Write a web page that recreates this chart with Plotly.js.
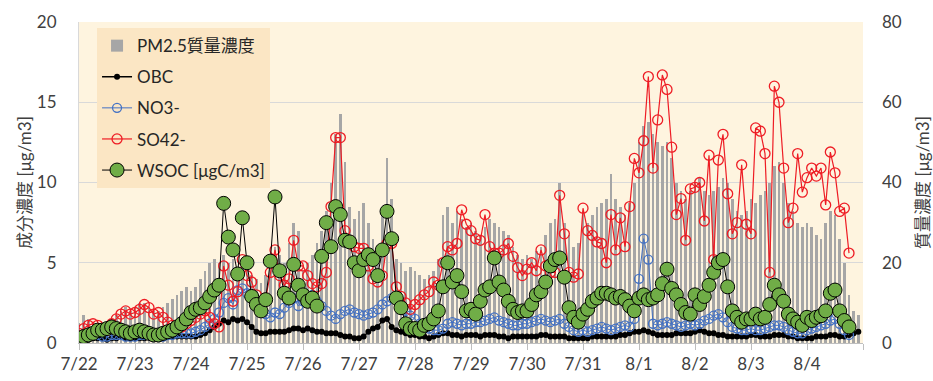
<!DOCTYPE html>
<html><head><meta charset="utf-8">
<script src="https://cdn.plot.ly/plotly-3.0.1.min.js"></script>
<style>html,body{margin:0;padding:0;background:#fff;}#chart{width:933px;height:381px;}</style>
</head><body><div id="chart"></div>
<script>
// day labels (7/22 .. 8/4), 2-hourly readings
const dayLabels = ['7/22','7/23','7/24','7/25','7/26','7/27','7/28','7/29','7/30','7/31','8/1','8/2','8/3','8/4'];
const dayDates = ['2021-07-22','2021-07-23','2021-07-24','2021-07-25','2021-07-26','2021-07-27','2021-07-28','2021-07-29','2021-07-30','2021-07-31','2021-08-01','2021-08-02','2021-08-03','2021-08-04','2021-08-05'];

// PM2.5 mass concentration [ug/m3] (right axis)
const pm25 = [
5,7,6,5,4,4,5,6,7,8,9,8,
9,10,10,9,8,8,9,10,11,12,13,14,
13,14,16,18,20,21,20,22,20,21,19,20,
20,17,16,15,17,20,24,22,20,25,30,28,
18,20,22,25,28,33,40,52,57,45,34,31,
33,35,30,26,24,34,46,36,21,20,18,19,
18,17,16,17,18,21,32,34,30,33,31,29,
30,28,27,29,31,30,29,28,27,24,22,21,
22,21,23,24,27,30,31,40,30,27,24,25,
33,30,32,34,35,36,42,36,34,32,35,40,
50,54,55,52,50,49,50,46,40,38,36,38,
40,41,38,37,38,39,41,40,36,33,32,33,
36,35,37,38,40,44,45,40,35,33,30,29,
30,29,27,26,30,33,32,26,20,12,8,7];

// OBC [ug/m3]
const obc = [
0.3,0.3,0.2,0.3,0.3,0.3,0.2,0.3,0.3,0.4,0.3,0.3,
0.3,0.3,0.3,0.4,0.3,0.3,0.3,0.4,0.4,0.4,0.4,0.4,
0.4,0.4,0.5,0.6,0.8,1.0,1.2,1.4,1.3,1.5,1.4,1.5,
1.3,1.0,0.7,0.6,0.6,0.7,0.7,0.7,0.7,0.8,0.9,0.9,
0.8,0.9,0.8,0.7,0.7,0.6,0.6,0.6,0.5,0.4,0.4,0.3,
0.3,0.4,0.7,0.9,1.0,1.4,1.5,1.0,0.8,0.7,0.6,0.5,
0.5,0.4,0.4,0.3,0.4,0.5,0.6,0.6,0.5,0.5,0.4,0.5,
0.5,0.5,0.4,0.5,0.5,0.5,0.4,0.4,0.3,0.4,0.4,0.4,
0.4,0.4,0.4,0.5,0.5,0.4,0.4,0.4,0.4,0.3,0.3,0.3,
0.3,0.3,0.4,0.4,0.4,0.4,0.4,0.4,0.5,0.5,0.6,0.7,
0.7,0.8,0.7,0.6,0.5,0.5,0.5,0.5,0.6,0.6,0.6,0.6,
0.7,0.8,0.7,0.6,0.6,0.5,0.5,0.4,0.4,0.4,0.4,0.4,
0.5,0.5,0.4,0.4,0.4,0.5,0.5,0.5,0.4,0.4,0.3,0.3,
0.3,0.3,0.4,0.4,0.4,0.5,0.5,0.4,0.4,0.5,0.6,0.7];

// NO3- [ug/m3]
const no3 = [
0.3,0.4,0.4,0.5,0.5,0.4,0.4,0.5,0.5,0.5,0.4,0.4,
0.4,0.5,0.5,0.5,0.4,0.4,0.4,0.5,0.5,0.6,0.6,0.6,
0.6,0.7,0.8,1.0,1.2,1.5,1.9,2.5,2.8,2.4,3.3,3.4,
3.1,2.8,2.5,2.0,1.8,1.6,1.9,1.8,2.2,2.5,2.8,2.3,
2.6,2.8,3.0,2.6,2.3,2.0,1.7,1.5,1.8,2.0,2.1,1.9,
1.8,1.7,1.8,1.9,2.1,2.4,2.6,2.8,2.8,2.4,2.0,1.7,
1.5,1.2,1.0,0.9,0.8,0.8,0.9,1.2,1.3,1.2,1.1,1.2,
1.2,1.3,1.3,1.4,1.5,1.6,1.4,1.3,1.2,1.1,1.1,1.2,
1.2,1.3,1.4,1.5,1.4,1.3,1.4,1.5,1.2,1.0,0.8,0.7,
0.8,0.7,0.8,0.9,1.0,0.9,0.8,0.9,1.0,1.1,1.0,1.5,
4.0,6.5,5.2,1.2,1.1,1.2,1.3,1.2,1.1,1.0,1.1,1.2,
1.1,1.2,1.4,1.5,1.7,1.8,1.6,1.3,1.0,0.9,0.8,0.8,
0.9,0.8,0.8,0.9,1.0,1.1,1.1,1.0,0.8,0.7,0.6,0.6,
0.8,0.9,1.0,1.1,1.2,1.4,1.5,1.2,0.8,0.5,null,null];

// SO4 2- [ug/m3]
const so4 = [
0.6,0.9,1.1,1.2,1.1,0.9,0.8,1.2,1.5,1.8,2.0,1.8,
1.9,2.1,2.4,2.2,1.8,1.9,1.6,1.3,1.1,1.0,1.0,1.2,
1.4,1.6,1.8,2.0,1.6,1.2,1.0,4.8,3.6,2.6,3.2,5.2,
4.2,3.8,3.0,2.4,2.8,4.4,5.8,4.2,3.6,4.0,6.4,4.8,
4.8,4.2,3.7,3.5,3.7,4.4,8.5,12.8,12.8,7.0,6.4,6.0,
5.9,5.9,4.8,4.0,3.8,4.2,6.2,6.2,3.5,2.9,2.5,2.1,
2.4,2.7,3.0,3.2,3.8,3.6,5.0,6.0,5.8,6.2,8.3,7.4,
7.0,6.5,6.4,8.0,6.0,5.6,5.6,5.8,6.2,5.4,4.7,4.2,
4.6,5.0,4.5,5.8,4.8,4.4,4.4,9.2,6.8,4.4,4.1,4.3,
8.4,7.0,6.7,6.3,6.2,5.0,8.0,5.8,7.8,6.0,8.5,11.5,
10.6,12.6,16.6,10.9,13.9,16.7,15.8,12.2,8.0,9.0,6.4,9.6,
9.7,10.0,7.6,11.7,5.2,11.4,13.0,9.3,6.8,7.5,11.1,7.4,
6.8,13.4,13.2,11.8,4.4,16.0,15.0,10.9,7.5,8.4,11.8,9.4,
10.3,10.9,10.4,10.9,8.6,11.9,10.6,8.2,8.4,5.6,null,null];

// WSOC [ugC/m3]
const wsoc = [
0.3,0.4,0.5,0.6,0.8,0.8,0.9,1.0,0.9,0.8,0.7,0.6,
0.7,0.8,0.7,0.6,0.5,0.5,0.6,0.7,0.8,1.0,1.2,1.5,
1.9,2.1,2.2,2.5,2.9,3.3,3.6,8.7,6.6,5.8,4.3,7.8,
5.0,2.9,2.4,2.0,2.7,5.1,9.1,4.5,3.1,2.8,4.9,3.6,
3.0,2.6,2.8,2.3,5.4,7.5,6.0,8.5,8.0,6.4,6.3,5.0,
4.5,5.2,5.5,5.2,4.2,5.8,8.2,6.5,2.8,2.2,1.2,0.9,
0.9,0.8,1.1,1.2,1.5,2.0,3.5,5.0,3.8,4.2,3.2,2.0,
2.1,1.8,2.6,3.3,3.5,5.3,3.8,3.3,2.6,2.1,1.9,2.0,
2.0,2.4,3.0,3.2,3.8,4.8,5.2,5.3,4.1,2.2,1.6,1.3,
1.8,2.1,2.6,2.8,3.1,3.1,3.0,2.8,2.9,2.7,2.3,2.0,
2.8,3.0,2.7,2.8,3.0,3.7,4.6,3.4,3.0,2.4,1.9,1.8,
3.0,2.4,2.9,3.6,4.4,5.0,5.2,3.5,2.0,1.6,1.3,1.5,
1.5,1.8,1.5,1.6,2.4,3.6,3.0,2.6,1.8,1.5,1.3,1.1,
1.6,1.4,1.6,1.7,2.0,3.1,3.3,2.0,1.4,1.0,null,null];

// time stamps: every 2 hours from 7/22 00:00
const STEP_H = 2;
const t0 = Date.UTC(2021, 6, 22);
function stamp(i){
  const d = new Date(t0 + i*STEP_H*3600*1000);
  const p = n => String(n).padStart(2,'0');
  return d.getUTCFullYear()+'-'+p(d.getUTCMonth()+1)+'-'+p(d.getUTCDate())+' '+p(d.getUTCHours())+':00';
}
const times = pm25.map((_, i) => stamp(i));

const FONT = 'Lato, "Noto Sans CJK JP", sans-serif';

const traces = [
  {type:'bar', name:'PM2.5質量濃度', x:times, y:pm25, yaxis:'y', legendgroup:'a',
   marker:{color:'#a6a6a6', line:{width:0}}, width:STEP_H*3600*1000*0.55, hoverinfo:'skip'},
  {type:'scatter', mode:'lines+markers', name:'OBC', x:times, y:obc, yaxis:'y2', legendgroup:'b',
   line:{color:'#000000', width:1.5}, marker:{color:'#000000', size:6}},
  {type:'scatter', mode:'lines+markers', name:'NO3-', x:times, y:no3, yaxis:'y2', legendgroup:'c',
   line:{color:'#4472c4', width:1}, marker:{symbol:'circle-open', color:'#4472c4', size:9, line:{width:1.3}}},
  {type:'scatter', mode:'lines+markers', name:'SO42-', x:times, y:so4, yaxis:'y2', legendgroup:'d',
   line:{color:'#ee1c24', width:1.2}, marker:{symbol:'circle-open', color:'#ee1c24', size:10, line:{width:1.3}}},
  {type:'scatter', mode:'lines+markers', name:'WSOC [μgC/m3]', x:times, y:wsoc, yaxis:'y2', legendgroup:'e',
   line:{color:'#000000', width:1}, marker:{color:'#70ad47', size:14, line:{color:'#000000', width:1}}}
];

const layout = {
  width:933, height:381,
  margin:{l:79, r:70, t:22, b:38},
  paper_bgcolor:'#ffffff', plot_bgcolor:'#fef4df',
  font:{family:FONT, size:17, color:'#404040'},
  bargap:0,
  showlegend:true,
  legend:{x:0.023, y:0.981, xanchor:'left', yanchor:'top', bgcolor:'#fbe6c4',
          traceorder:'grouped', tracegroupgap:6, font:{family:FONT, size:17, color:'#262626'},
          itemwidth:30},
  xaxis:{type:'date', range:['2021-07-22 00:00','2021-08-05 00:00'],
         tickvals:dayDates, ticktext:dayLabels.concat(['']),
         ticks:'outside', ticklen:6, tickcolor:'#bfbfbf',
         showline:true, linecolor:'#bfbfbf', showgrid:false, zeroline:false,
         tickfont:{family:FONT, size:17, color:'#404040'}},
  yaxis:{side:'right', range:[0,80], dtick:20, showgrid:true, gridcolor:'#d9d9d9',
         zeroline:false, showline:false, ticks:'', ticklabelstandoff:18,
         title:{text:'質量濃度 [μg/m3]', font:{family:FONT, size:17, color:'#404040'}, standoff:25},
         tickfont:{family:FONT, size:17, color:'#404040'}},
  yaxis2:{side:'left', overlaying:'y', range:[0,20], dtick:5, showgrid:false, zeroline:false,
          showline:true, linecolor:'#d9d9d9', ticks:'', ticklabelstandoff:18,
          title:{text:'成分濃度 [μg/m3]', font:{family:FONT, size:17, color:'#404040'}, standoff:0},
          tickfont:{family:FONT, size:17, color:'#404040'}}
};

Plotly.newPlot('chart', traces, layout, {displayModeBar:false, staticPlot:true});
</script>
</body></html>
